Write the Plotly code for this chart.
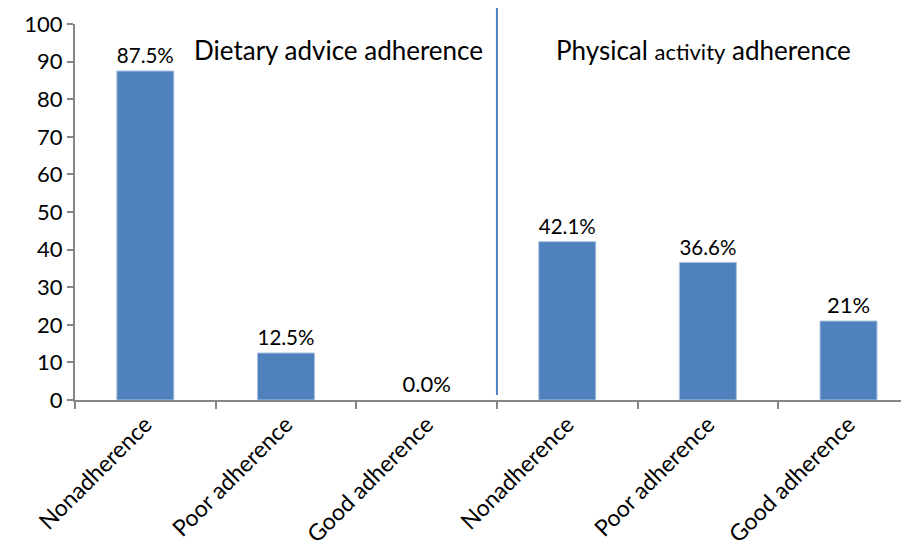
import plotly.graph_objects as go

categories = ["Nonadherence", "Poor adherence", "Good adherence",
              "Nonadherence", "Poor adherence", "Good adherence"]
values = [87.5, 12.5, 0.0, 42.1, 36.6, 21.0]
value_labels = ["87.5%", "12.5%", "0.0%", "42.1%", "36.6%", "21%"]
y_ticks = [0, 10, 20, 30, 40, 50, 60, 70, 80, 90, 100]
group_titles = ["Dietary advice adherence", "Physical activity adherence"]

FONT = "Lato, 'Liberation Sans', sans-serif"
BLUE = "#4F81BD"
AXIS = "#868686"

x = list(range(len(categories)))
outline_widths = [1 if v > 0 else 0 for v in values]

fig = go.Figure()
fig.add_trace(go.Bar(
    x=x, y=values, width=0.405,
    marker=dict(color=BLUE, line=dict(color="#A9C0E0", width=outline_widths)),
    text=value_labels, textposition="outside", cliponaxis=False,
    textfont=dict(family=FONT, size=22, color="#000"),
))

fig.update_layout(
    width=909, height=553,
    margin=dict(l=67, r=8, t=16, b=161),
    plot_bgcolor="white", paper_bgcolor="white",
    showlegend=False,
    font=dict(family=FONT, color="#000"),
    xaxis=dict(
        range=[-0.5, 5.43], tickvals=x, ticktext=categories,
        tickangle=-45, ticks="", showgrid=False, zeroline=False,
        showline=True, linecolor=AXIS, linewidth=2, automargin=False,
        tickfont=dict(family=FONT, size=23, color="#000"),
        minor=dict(tickvals=[-0.5, 0.5, 1.5, 2.5, 3.5, 4.5], ticks="outside",
                   ticklen=7, tickcolor=AXIS, tickwidth=2),
    ),
    yaxis=dict(
        range=[0, 100], tickvals=y_ticks, ticks="outside", ticklen=6,
        tickcolor=AXIS, tickwidth=2, showgrid=False, zeroline=False,
        showline=True, linecolor=AXIS, linewidth=2, automargin=False,
        tickfont=dict(family=FONT, size=22, color="#000"),
    ),
)

fig.add_shape(type="line", xref="x", yref="paper", x0=2.5, x1=2.5,
              y0=0.013, y1=1.043, line=dict(color=BLUE, width=2))

fig.add_annotation(x=1.37, y=93, xref="x", yref="y", text=group_titles[0],
                   showarrow=False, font=dict(family=FONT, size=26, color="#000"))
fig.add_annotation(x=3.97, y=93, xref="x", yref="y",
                   text="Physical <span style='font-size:22px'>activity</span> adherence",
                   showarrow=False, font=dict(family=FONT, size=26, color="#000"))

fig.write_html("out.html")
